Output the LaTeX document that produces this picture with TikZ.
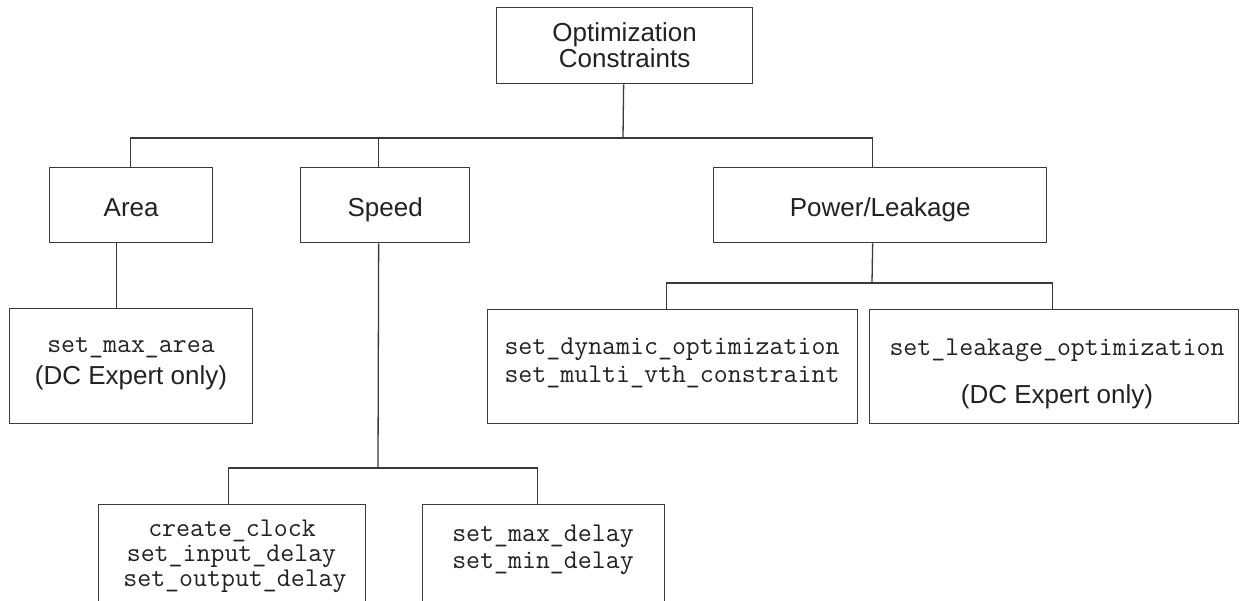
\documentclass[tikz,border=0pt]{standalone}
\usepackage{fontspec}
\setmainfont{Liberation Sans}
\definecolor{linecol}{HTML}{3A3A3A}
\definecolor{txtcol}{HTML}{222222}
\tikzset{
  box/.style={draw=linecol, line width=1.3pt, inner sep=0pt, anchor=north west, rectangle, text=txtcol},
  conn/.style={draw=linecol, line width=1.3pt},
  sanstxt/.style={font=\fontsize{26}{26}\selectfont, text=txtcol},
  oneline/.style={text height=23pt, text depth=0pt},
  sansline/.style={font=\fontsize{26}{26}\selectfont, text=txtcol, inner sep=0pt, anchor=base},
  monotxt/.style={font=\ttfamily\fontsize{27.1}{28}\selectfont, text=txtcol, inner sep=0pt, anchor=base},
}
\begin{document}
\begin{tikzpicture}[x=1pt,y=-1pt]
\clip (0,0) rectangle (1240,601);
\fill[white] (0,0) rectangle (1240,601);
% boxes
\node[box, sanstxt, align=center, minimum width=256pt, minimum height=76pt] (top) at (496,7) {Optimization\\Constraints};
\node[box, sanstxt, oneline, minimum width=163pt, minimum height=75pt] (area) at (49,167) {Area};
\node[box, sanstxt, oneline, minimum width=169pt, minimum height=75pt] (speed) at (300,167) {Speed};
\node[box, sanstxt, oneline, minimum width=333pt, minimum height=75pt] (power) at (713,167) {Power/Leakage};
\node[box, minimum width=243pt, minimum height=115pt] (maxarea) at (9,308) {};
\node[box, minimum width=370pt, minimum height=114pt] (dyn) at (487,309) {};
\node[box, minimum width=369pt, minimum height=114pt] (leak) at (869,309) {};
\node[box, minimum width=267pt, minimum height=150pt] (clock) at (98,504) {};
\node[box, minimum width=242pt, minimum height=150pt] (delay) at (422,504) {};
% texts
\node[monotxt] (maxareaA) at (131,352.7) {set\_max\_area};
\node[sansline] (maxareaB) at (131,385) {(DC Expert only)};
\node[monotxt] (dynA) at (672,355) {set\_dynamic\_optimization};
\node[monotxt] (dynB) at (672,383) {set\_multi\_vth\_constraint};
\node[monotxt] (leakA) at (1057,356) {set\_leakage\_optimization};
\node[sansline] (leakB) at (1057,404) {(DC Expert only)};
\node[monotxt] (clockA) at (232,536) {create\_clock};
\node[monotxt] (clockB) at (231.5,561) {set\_input\_delay};
\node[monotxt] (clockC) at (235,586) {set\_output\_delay};
\node[monotxt] (delayA) at (543,541.5) {set\_max\_delay};
\node[monotxt] (delayB) at (543,568) {set\_min\_delay};
% hubs
\coordinate (hub) at (623,138);
\coordinate (hubS) at (378,468);
\coordinate (hubP) at (872,283);
% connectors
\draw[conn] ([xshift=-1pt]top.south) -- (hub);
\draw[conn] ([xshift=-0.5pt]area.north) |- (hub) -| ([xshift=-7.5pt]power.north);
\draw[conn] ([xshift=-6.5pt]speed.north) -- ([xshift=-6.5pt]speed.north |- hub);
\draw[conn] ([xshift=-14.5pt]area.south) -- ([xshift=-14.5pt]area.south |- maxarea.north);
\draw[conn] ([xshift=-6.5pt]speed.south) -- (hubS);
\draw[conn] ([xshift=-3.5pt]clock.north) |- (hubS) -| ([xshift=-6pt]delay.north);
\draw[conn] ([xshift=-7.5pt]power.south) -- (hubP);
\draw[conn] ([xshift=-6pt]dyn.north) |- (hubP) -| ([xshift=-1.5pt]leak.north);
\end{tikzpicture}
\end{document}
